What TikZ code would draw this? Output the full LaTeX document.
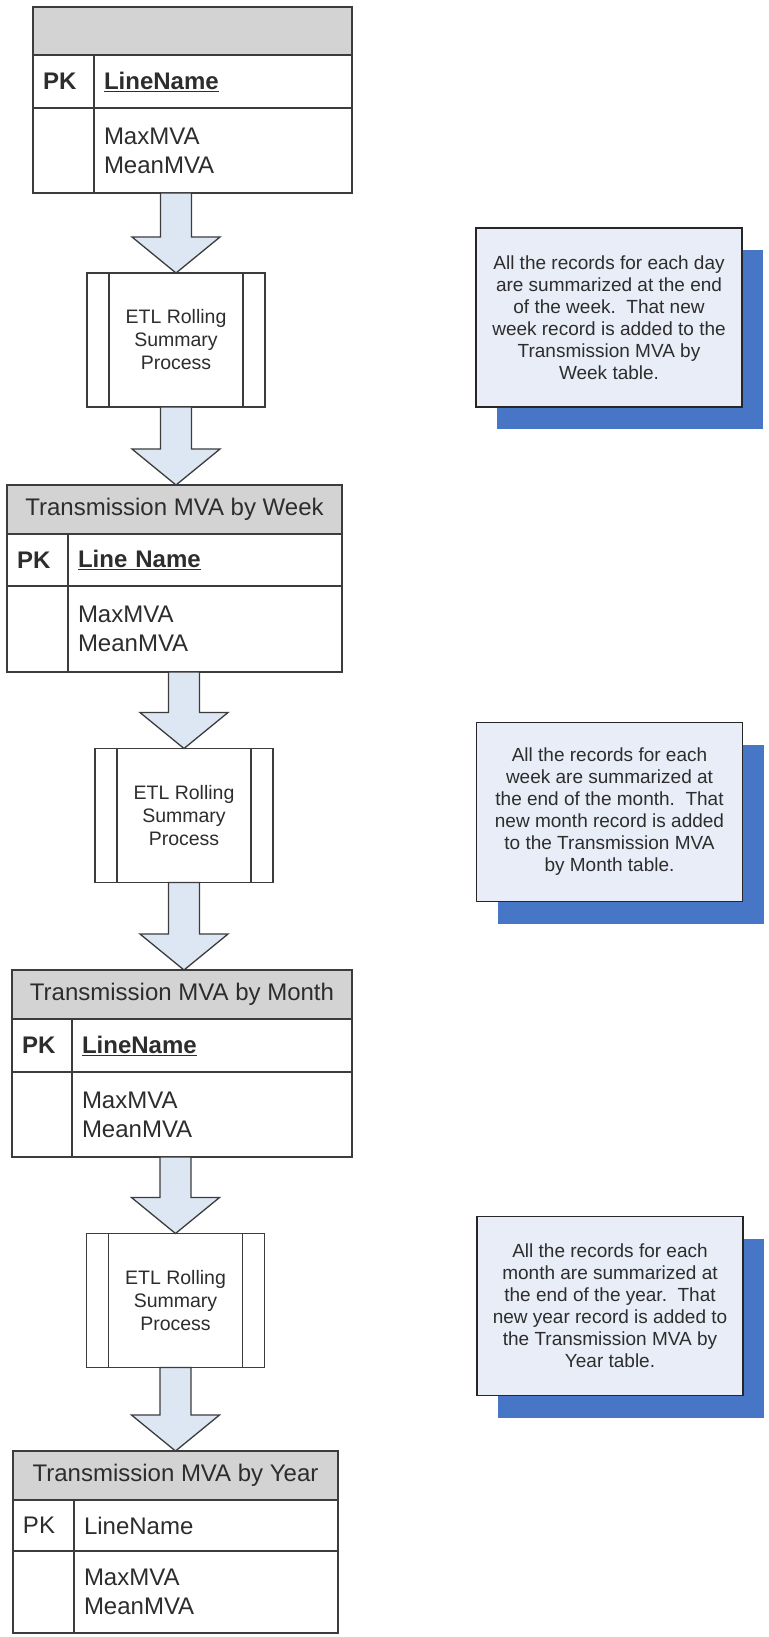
\documentclass[tikz,border=0pt]{standalone}
\usepackage{fontspec}
\setmainfont{Liberation Sans}
\usetikzlibrary{positioning,calc,shadows}
\definecolor{linegray}{RGB}{60,60,60}
\definecolor{textgray}{RGB}{45,45,45}
\definecolor{headgray}{RGB}{211,211,211}
\definecolor{arrowblue}{RGB}{221,230,243}
\definecolor{notefill}{RGB}{232,237,247}
\definecolor{noteblue}{RGB}{72,118,198}
\tikzstyle{thead}=[rectangle, draw=linegray, fill=headgray, line width=1.5pt, outer sep=0pt,
                   inner sep=0pt, text=textgray, font=\fontsize{24}{29}\selectfont]
\tikzstyle{tcell}=[rectangle, draw=linegray, fill=white, line width=1.5pt, outer sep=0pt,
                   inner xsep=10pt, inner ysep=0pt, align=left, text=textgray,
                   font=\fontsize{24}{29}\selectfont]
\tikzstyle{etlbox}=[rectangle, draw=linegray, fill=white, line width=1.5pt, outer sep=0pt,
                    minimum width=178pt, minimum height=134pt, align=center, text=textgray,
                    font=\fontsize{19.5}{23}\selectfont]
\tikzstyle{notebox}=[rectangle, draw=black!85, fill=notefill, line width=1.3pt, outer sep=0pt,
                     minimum width=266pt, minimum height=179pt, align=center, text=textgray,
                     font=\fontsize{19}{22}\selectfont,
                     drop shadow={shadow xshift=21pt, shadow yshift=-22pt, fill=noteblue, opacity=1}]
\tikzstyle{pline}=[-, draw=linegray, line width=1.5pt]
\tikzstyle{flowarr}=[draw=linegray, fill=arrowblue, line width=1.3pt, line join=miter]
\newcommand{\flowarrow}[2]{%
  \draw[flowarr] let \p1=(#1), \p2=(#2) in
    (\x1-15.5pt,\y1) -- (\x1+15.5pt,\y1) -- (\x1+15.5pt,\y2+36pt)
    -- (\x1+44pt,\y2+36pt) -- (\x2,\y2) -- (\x1-44pt,\y2+36pt)
    -- (\x1-15.5pt,\y2+36pt) -- cycle;}
\begin{document}
\begin{tikzpicture}[x=1pt, y=-1pt, node distance=0pt]
\useasboundingbox (0,0) rectangle (768,1637);

% day table
\node (DYHD) [thead, minimum width=319pt, minimum height=48pt, anchor=north west] at (33,7) {};
\node (DYPK) [tcell, text width=41pt, minimum height=53pt, below right=0pt and 0pt of DYHD.south west] {\textbf{PK}};
\node (DYKEY) [tcell, text width=238pt, minimum height=53pt, right=0pt of DYPK] {\textbf{\underline{LineName}}};
\node (DYFX) [tcell, text width=41pt, minimum height=85pt, below=0pt of DYPK] {};
\node (DYFLD) [tcell, text width=238pt, minimum height=85pt, below=0pt of DYKEY] {MaxMVA\\MeanMVA};

% week table
\node (WKHD) [thead, minimum width=335pt, minimum height=49pt, anchor=north west] at (7,485) {Transmission MVA by Week};
\node (WKPK) [tcell, text width=41pt, minimum height=52pt, below right=0pt and 0pt of WKHD.south west] {\textbf{PK}};
\node (WKKEY) [tcell, text width=254pt, minimum height=52pt, right=0pt of WKPK] {\textbf{\underline{Line Name}}};
\node (WKFX) [tcell, text width=41pt, minimum height=86pt, below=0pt of WKPK] {};
\node (WKFLD) [tcell, text width=254pt, minimum height=86pt, below=0pt of WKKEY] {MaxMVA\\MeanMVA};

% month table
\node (MOHD) [thead, minimum width=340pt, minimum height=49pt, anchor=north west] at (12,970) {Transmission MVA by Month};
\node (MOPK) [tcell, text width=40pt, minimum height=53pt, below right=0pt and 0pt of MOHD.south west] {\textbf{PK}};
\node (MOKEY) [tcell, text width=260pt, minimum height=53pt, right=0pt of MOPK] {\textbf{\underline{LineName}}};
\node (MOFX) [tcell, text width=40pt, minimum height=85pt, below=0pt of MOPK] {};
\node (MOFLD) [tcell, text width=260pt, minimum height=85pt, below=0pt of MOKEY] {MaxMVA\\MeanMVA};

% year table
\node (YRHD) [thead, minimum width=325pt, minimum height=49pt, anchor=north west] at (13,1451) {Transmission MVA by Year};
\node (YRPK) [tcell, text width=41pt, minimum height=51pt, below right=0pt and 0pt of YRHD.south west] {PK};
\node (YRKEY) [tcell, text width=244pt, minimum height=51pt, right=0pt of YRPK] {LineName};
\node (YRFX) [tcell, text width=41pt, minimum height=82pt, below=0pt of YRPK] {};
\node (YRFLD) [tcell, text width=244pt, minimum height=82pt, below=0pt of YRKEY] {MaxMVA\\MeanMVA};

% rolling summary steps
\node (ETL1) [etlbox] at (176,340) {ETL Rolling\\Summary\\Process};
\node (ETL2) [etlbox] at (184,815.5) {ETL Rolling\\Summary\\Process};
\node (ETL3) [etlbox] at (175.5,1300.5) {ETL Rolling\\Summary\\Process};
 \draw[pline] ([xshift=22pt]ETL1.north west) -- ([xshift=22pt]ETL1.south west);
 \draw[pline] ([xshift=-22pt]ETL1.north east) -- ([xshift=-22pt]ETL1.south east);
 \draw[pline] ([xshift=22pt]ETL2.north west) -- ([xshift=22pt]ETL2.south west);
 \draw[pline] ([xshift=-22pt]ETL2.north east) -- ([xshift=-22pt]ETL2.south east);
 \draw[pline] ([xshift=22pt]ETL3.north west) -- ([xshift=22pt]ETL3.south west);
 \draw[pline] ([xshift=-22pt]ETL3.north east) -- ([xshift=-22pt]ETL3.south east);

\flowarrow{ETL1.north |- DYFLD.south}{ETL1.north}
\flowarrow{ETL1.south}{ETL1.south |- WKHD.north}
\flowarrow{ETL2.north |- WKFLD.south}{ETL2.north}
\flowarrow{ETL2.south}{ETL2.south |- MOHD.north}
\flowarrow{ETL3.north |- MOFLD.south}{ETL3.north}
\flowarrow{ETL3.south}{ETL3.south |- YRHD.north}

% notes
\node (NOTE1) [notebox] at (609,317.5) {All the records for each day\\are summarized at the end\\of the week.\ \ That new\\week record is added to the\\Transmission MVA by\\Week table.};
\node (NOTE2) [notebox] at (609.5,812) {All the records for each\\week are summarized at\\the end of the month.\ \ That\\new month record is added\\to the Transmission MVA\\by Month table.};
\node (NOTE3) [notebox] at (610,1306) {All the records for each\\month are summarized at\\the end of the year.\ \ That\\new year record is added to\\the Transmission MVA by\\Year table.};

\end{tikzpicture}
\end{document}
